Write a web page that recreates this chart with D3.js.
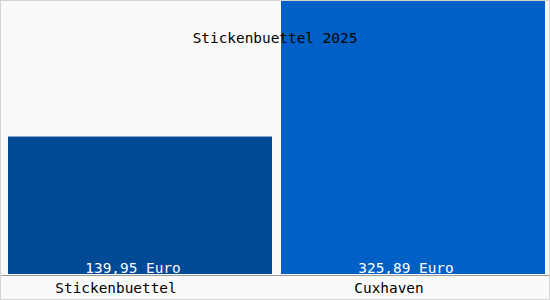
<!DOCTYPE html>
<html>
<head>
<meta charset="utf-8">
<script src="https://cdn.jsdelivr.net/npm/d3@7"></script>
<style>
  body { margin: 0; background: #fff; }
  text { font-family: "DejaVu Sans Mono", monospace; font-size: 14.4px; }
</style>
</head>
<body>
<div id="chart"></div>
<script>
// data
const places = ["Stickenbuettel", "Cuxhaven"];
const prices = [139.95, 325.89];
const priceLabels = ["139,95 Euro", "325,89 Euro"];
const barColors = ["#004a96", "#0060c6"];
const title = "Stickenbuettel 2025";

const W = 550, H = 300;
const base = 275;

const svg = d3.select("#chart").append("svg")
    .attr("width", W)
    .attr("height", H);

// background and frame
svg.append("rect")
    .attr("x", 0.5).attr("y", 0.5)
    .attr("width", W - 1).attr("height", H - 1)
    .attr("fill", "#fafafa")
    .attr("stroke", "#d4d4d4");

// x and y scales
const x = d3.scaleBand()
    .domain(places)
    .range([8, 545])
    .paddingInner(0.033);

// the chart starts its value axis below zero
const y = d3.scaleLinear()
    .domain([-50, d3.max(prices)])
    .range([base, 1]);

// the bars
svg.selectAll("rect.bar")
    .data(places)
    .enter()
    .append("rect")
        .attr("class", "bar")
        .attr("x", d => x(d))
        .attr("y", (d, i) => y(prices[i]))
        .attr("width", x.bandwidth())
        .attr("height", (d, i) => base - 1 - y(prices[i]))
        .attr("fill", (d, i) => barColors[i]);

// title, on top of the bars
svg.append("text")
    .attr("x", W / 2)
    .attr("y", 43)
    .attr("text-anchor", "middle")
    .attr("fill", "#000")
    .text(title);

// baseline
svg.append("line")
    .attr("x1", 1).attr("x2", W - 1)
    .attr("y1", base + 0.5).attr("y2", base + 0.5)
    .attr("stroke", "#999");

// value labels inside the bars
svg.selectAll("text.val")
    .data(places)
    .enter()
    .append("text")
        .attr("class", "val")
        .attr("x", d => x(d) + 125)
        .attr("y", base - 2)
        .attr("text-anchor", "middle")
        .attr("fill", "#fff")
        .text((d, i) => priceLabels[i]);

// category labels
svg.selectAll("text.cat")
    .data(places)
    .enter()
    .append("text")
        .attr("class", "cat")
        .attr("x", d => x(d) + 108)
        .attr("y", 293)
        .attr("text-anchor", "middle")
        .attr("fill", "#000")
        .text(d => d);
</script>
</body>
</html>
